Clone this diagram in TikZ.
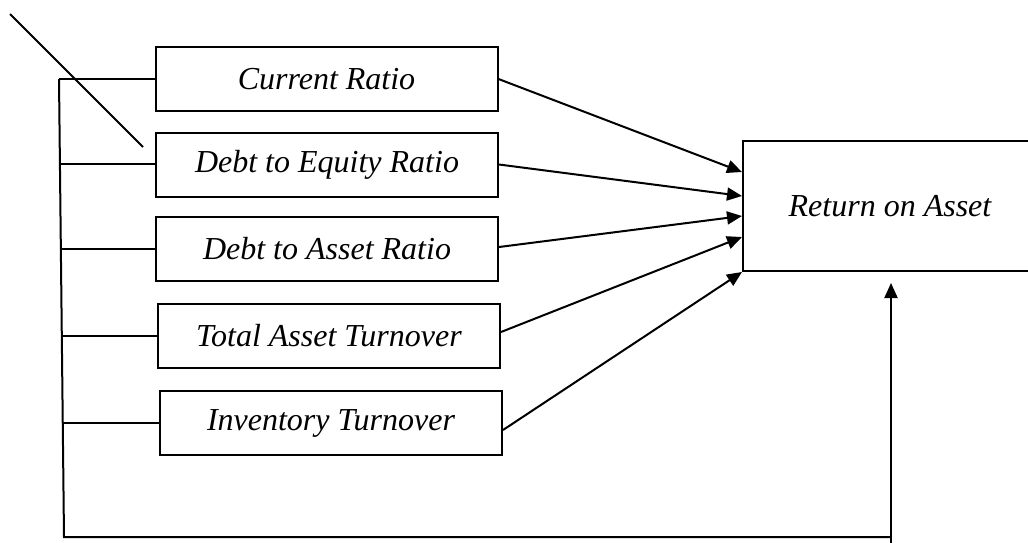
\documentclass[tikz,border=0pt]{standalone}
\usepackage{fontspec}
\setmainfont{Liberation Serif}
\usetikzlibrary{arrows.meta,calc}
\begin{document}
\begin{tikzpicture}[x=1pt,y=-1pt,
  line width=2pt,
  box/.style={draw, minimum width=342pt, minimum height=64pt, inner sep=0pt,
    font=\fontsize{32}{38}\selectfont\itshape},
  arr/.style={-{Triangle[length=15pt,width=13pt]}},
]
\useasboundingbox (0,0) rectangle (1028,542);
\clip (0,0) rectangle (1028,542);

\node[box] (b1) at (326.5,79) {Current Ratio};
\node[box] (b2) at (327,164.5) {Debt to Equity Ratio};
\node[box] (b3) at (327,249) {Debt to Asset Ratio};
\node[box] (b4) at (329,336) {Total Asset Turnover};
\node[box] (b5) at (331,423) {Inventory Turnover};
\node[box, minimum width=294pt, minimum height=130pt] (roa) at (890,206) {Return on Asset};

\coordinate (j1) at (59,79);
\coordinate (j2) at (60,164);
\coordinate (j3) at (61,249);
\coordinate (j4) at (62,336);
\coordinate (j5) at (63,423);
\coordinate (c1) at (64,537);
\coordinate (c2) at (891,537);
\coordinate (c3) at (891,545);

\draw (j1) -- (c1) -- (c2);
\draw (j1) -- (b1.west);
\draw (j2) -- (b2.west |- j2);
\draw (j3) -- (b3.west);
\draw (j4) -- (b4.west);
\draw (j5) -- (b5.west);
\draw[arr, shorten >=11pt] (c3) -- (roa.south -| c3);

\draw[arr] (b1.east) -- ($(roa.north west)+(0,32)$);
\draw[arr] (b2.east) -- ($(roa.north west)+(0,56)$);
\draw[arr] ($(b3.east)+(0,-2)$) -- ($(roa.north west)+(0,76)$);
\draw[arr] ($(b4.east)+(0,-4)$) -- ($(roa.north west)+(0,97)$);
\draw[arr] ($(b5.east)+(0,7)$) -- (roa.south west);

\coordinate (d1) at (10,14);
\coordinate (d2) at (143,147);
\draw (d1) -- (d2);
\end{tikzpicture}
\end{document}
